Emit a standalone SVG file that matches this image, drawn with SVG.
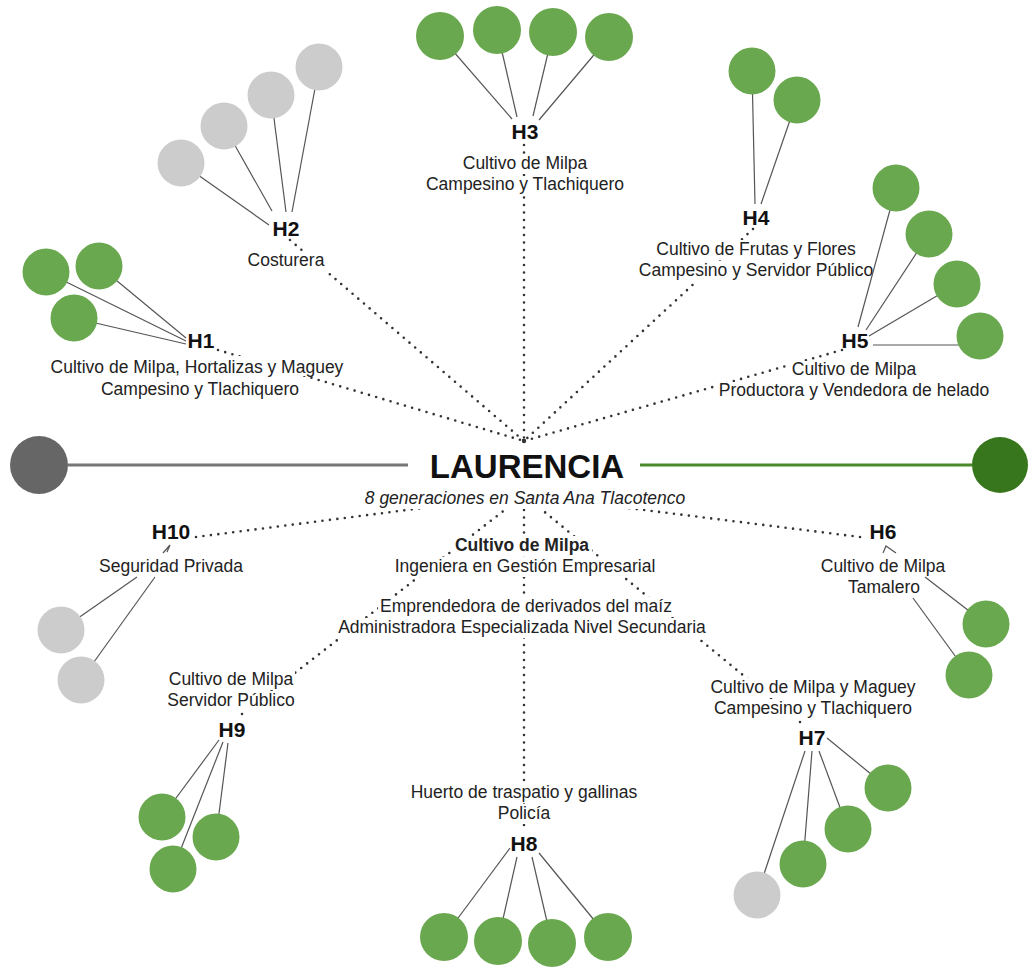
<svg xmlns="http://www.w3.org/2000/svg" width="1028" height="967" viewBox="0 0 1028 967">
<defs>
<style>
.t{font-family:"Liberation Sans",Arial,sans-serif;font-size:17.5px;fill:#222;text-anchor:middle}
.h{font-family:"Liberation Sans",Arial,sans-serif;font-size:21px;font-weight:bold;fill:#111;text-anchor:middle}
.b{font-weight:bold}
.g{fill:#6aa84f}
.gr{fill:#cccccc}
.ln{stroke:#555;stroke-width:1.2;fill:none}
.dot{stroke:#333;stroke-width:2.6;stroke-linecap:round;stroke-dasharray:0 7.5;fill:none}
.bg{fill:#fff}
</style>
</defs>
<rect width="1028" height="967" fill="#fff"/>

<g id="connectors">
<line class="dot" x1="218" y1="350" x2="524" y2="441"/>
<line class="dot" x1="290" y1="240" x2="524" y2="441"/>
<line class="dot" x1="524" y1="145" x2="524" y2="441"/>
<line class="dot" x1="753" y1="229" x2="524" y2="441"/>
<line class="dot" x1="842" y1="350" x2="524" y2="441"/>
<circle cx="524" cy="441" r="2.2" fill="#333"/>
<line class="dot" x1="196" y1="537" x2="524" y2="495"/>
<line class="dot" x1="860" y1="537" x2="524" y2="495"/>
<line class="dot" x1="242" y1="714" x2="524" y2="495"/>
<line class="dot" x1="800" y1="722" x2="524" y2="495"/>
<line class="dot" x1="524" y1="495" x2="524" y2="832"/>
</g>

<g id="timeline">
<line x1="68" y1="465" x2="408" y2="465" stroke="#777" stroke-width="3"/>
<circle cx="39" cy="465" r="29" fill="#666"/>
<line x1="640" y1="465" x2="972" y2="465" stroke="#4a8a2a" stroke-width="3"/>
<circle cx="1000" cy="465" r="28" fill="#38761d"/>
</g>

<g id="laurencia">
<rect class="bg" x="360" y="488" width="330" height="21"/>
<rect class="bg" x="454" y="536" width="138" height="20"/>
<rect class="bg" x="392" y="557" width="266" height="20"/>
<rect class="bg" x="378" y="597" width="298" height="20"/>
<rect class="bg" x="336" y="618" width="372" height="20"/>
<text x="527" y="478" font-family="'Liberation Sans',Arial,sans-serif" font-size="33" font-weight="bold" fill="#111" text-anchor="middle">LAURENCIA</text>
<text class="t" x="525" y="504" font-style="italic" fill="#333">8 generaciones en Santa Ana Tlacotenco</text>
<text class="t b" x="522" y="551">Cultivo de Milpa</text>
<text class="t" x="525" y="572">Ingeniera en Gestión Empresarial</text>
<text class="t" x="526" y="612">Emprendedora de derivados del maíz</text>
<text class="t" x="522" y="633">Administradora Especializada Nivel Secundaria</text>
</g>

<g id="H1">
<rect class="bg" x="48" y="356" width="298" height="20"/>
<rect class="bg" x="98" y="378" width="204" height="20"/>
<line class="ln" x1="99" y1="266" x2="186" y2="338"/>
<line class="ln" x1="46" y1="272" x2="186" y2="341"/>
<line class="ln" x1="74" y1="318" x2="186" y2="344"/>
<circle class="g" cx="46" cy="272" r="23.5"/>
<circle class="g" cx="99" cy="266" r="23.5"/>
<circle class="g" cx="74" cy="318" r="23.5"/>
<text class="h" x="201" y="348">H1</text>
<text class="t" x="197" y="373">Cultivo de Milpa, Hortalizas y Maguey</text>
<text class="t" x="200" y="395">Campesino y Tlachiquero</text>
</g>

<g id="H2">
<rect class="bg" x="246" y="251" width="82" height="20"/>
<line class="ln" x1="319" y1="67" x2="292" y2="212"/>
<line class="ln" x1="271" y1="95" x2="286" y2="212"/>
<line class="ln" x1="224" y1="126" x2="272" y2="211"/>
<line class="ln" x1="181" y1="163" x2="269" y2="225"/>
<circle class="gr" cx="319" cy="67" r="23.5"/>
<circle class="gr" cx="271" cy="95" r="23.5"/>
<circle class="gr" cx="224" cy="126" r="23.5"/>
<circle class="gr" cx="181" cy="163" r="23.5"/>
<text class="h" x="286" y="236">H2</text>
<text class="t" x="286" y="266">Costurera</text>
</g>

<g id="H3">
<rect class="bg" x="460" y="154" width="130" height="20"/>
<rect class="bg" x="424" y="176" width="202" height="20"/>
<line class="ln" x1="440" y1="36" x2="512" y2="119"/>
<line class="ln" x1="497" y1="30" x2="517" y2="117"/>
<line class="ln" x1="553" y1="32" x2="533" y2="116"/>
<line class="ln" x1="609" y1="37" x2="539" y2="120"/>
<circle class="g" cx="440" cy="36" r="24"/>
<circle class="g" cx="497" cy="30" r="24"/>
<circle class="g" cx="553" cy="32" r="24"/>
<circle class="g" cx="609" cy="37" r="24"/>
<text class="h" x="525" y="139">H3</text>
<text class="t" x="525" y="169">Cultivo de Milpa</text>
<text class="t" x="525" y="190">Campesino y Tlachiquero</text>
</g>

<g id="H4">
<rect class="bg" x="653" y="240" width="204" height="20"/>
<rect class="bg" x="636" y="262" width="239" height="20"/>
<line class="ln" x1="752" y1="71" x2="755" y2="204"/>
<line class="ln" x1="797" y1="100" x2="761" y2="204"/>
<circle class="g" cx="752" cy="71" r="23.5"/>
<circle class="g" cx="797" cy="100" r="23.5"/>
<text class="h" x="756" y="225">H4</text>
<text class="t" x="756" y="255">Cultivo de Frutas y Flores</text>
<text class="t" x="756" y="276">Campesino y Servidor Público</text>
</g>

<g id="H5">
<rect class="bg" x="790" y="361" width="130" height="20"/>
<rect class="bg" x="716" y="382" width="276" height="20"/>
<line class="ln" x1="896" y1="188" x2="858" y2="327"/>
<line class="ln" x1="929" y1="234" x2="866" y2="330"/>
<line class="ln" x1="957" y1="284" x2="869" y2="336"/>
<line class="ln" x1="980" y1="345" x2="873" y2="345"/>
<circle class="g" cx="896" cy="188" r="23.5"/>
<circle class="g" cx="929" cy="234" r="23.5"/>
<circle class="g" cx="957" cy="284" r="23.5"/>
<circle class="g" cx="980" cy="336" r="23.5"/>
<text class="h" x="855" y="348">H5</text>
<text class="t" x="854" y="375">Cultivo de Milpa</text>
<text class="t" x="854" y="396">Productora y Vendedora de helado</text>
</g>

<g id="H6">
<line class="ln" x1="986" y1="624" x2="925" y2="577"/>
<line class="ln" x1="969" y1="675" x2="913" y2="598"/>
<polyline class="ln" points="883,553 886,546 896,553" stroke-width="1"/>
<circle class="g" cx="986" cy="624" r="23.5"/>
<circle class="g" cx="969" cy="675" r="23.5"/>
<text class="h" x="883" y="539">H6</text>
<text class="t" x="883" y="572">Cultivo de Milpa</text>
<text class="t" x="884" y="593">Tamalero</text>
</g>

<g id="H7">
<rect class="bg" x="708" y="678" width="210" height="20"/>
<rect class="bg" x="712" y="699" width="202" height="20"/>
<line class="ln" x1="888" y1="788" x2="827" y2="738"/>
<line class="ln" x1="848" y1="829" x2="819" y2="751"/>
<line class="ln" x1="803" y1="864" x2="812" y2="751"/>
<line class="ln" x1="757" y1="895" x2="805" y2="751"/>
<circle class="g" cx="888" cy="788" r="23.5"/>
<circle class="g" cx="848" cy="829" r="23.5"/>
<circle class="g" cx="803" cy="864" r="23.5"/>
<circle class="gr" cx="757" cy="895" r="23.5"/>
<text class="h" x="812" y="745">H7</text>
<text class="t" x="813" y="693">Cultivo de Milpa y Maguey</text>
<text class="t" x="813" y="714">Campesino y Tlachiquero</text>
</g>

<g id="H8">
<rect class="bg" x="409" y="783" width="231" height="20"/>
<rect class="bg" x="496" y="804" width="57" height="20"/>
<line class="ln" x1="444" y1="937" x2="510" y2="848"/>
<line class="ln" x1="498" y1="941" x2="517" y2="857"/>
<line class="ln" x1="552" y1="943" x2="532" y2="857"/>
<line class="ln" x1="608" y1="937" x2="539" y2="853"/>
<circle class="g" cx="444" cy="937" r="24"/>
<circle class="g" cx="498" cy="941" r="24"/>
<circle class="g" cx="552" cy="943" r="24"/>
<circle class="g" cx="608" cy="937" r="24"/>
<text class="h" x="524" y="851">H8</text>
<text class="t" x="524" y="798">Huerto de traspatio y gallinas</text>
<text class="t" x="524" y="819">Policía</text>
</g>

<g id="H9">
<rect class="bg" x="167" y="670" width="128" height="20"/>
<rect class="bg" x="165" y="691" width="132" height="20"/>
<line class="ln" x1="162" y1="817" x2="219" y2="740"/>
<line class="ln" x1="173" y1="869" x2="223" y2="742"/>
<line class="ln" x1="216" y1="837" x2="228" y2="743"/>
<circle class="g" cx="162" cy="817" r="23.5"/>
<circle class="g" cx="216" cy="837" r="23.5"/>
<circle class="g" cx="173" cy="869" r="23.5"/>
<text class="h" x="232" y="737">H9</text>
<text class="t" x="231" y="685">Cultivo de Milpa</text>
<text class="t" x="231" y="706">Servidor Público</text>
</g>

<g id="H10">
<line class="ln" x1="61" y1="630" x2="137" y2="577"/>
<line class="ln" x1="81" y1="680" x2="155" y2="577"/>
<polyline class="ln" points="163,553 170,545 167,552" stroke-width="1"/>
<circle class="gr" cx="61" cy="630" r="23.5"/>
<circle class="gr" cx="81" cy="680" r="23.5"/>
<text class="h" x="171" y="539">H10</text>
<text class="t" x="171" y="572">Seguridad Privada</text>
</g>
</svg>
